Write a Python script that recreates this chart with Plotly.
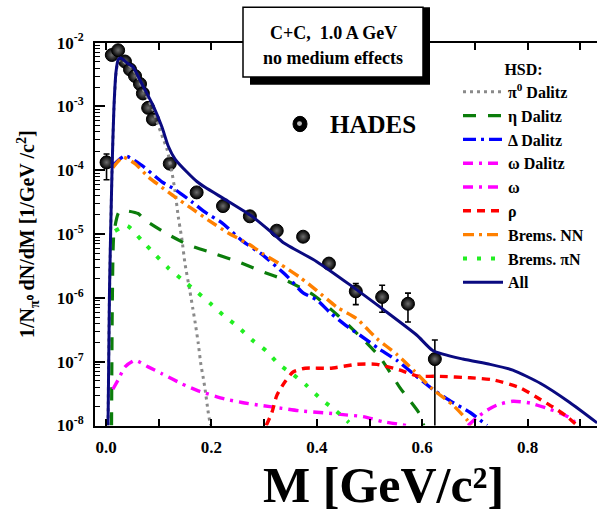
import plotly.graph_objects as go

W, H = 597, 515
SERIF = "Liberation Serif"

# ---------------- data ----------------
# HADES C+C 1.0 A GeV e+e- invariant mass spectrum
hades_m = [0.001, 0.011, 0.023, 0.036, 0.0455, 0.055, 0.0645, 0.070, 0.080, 0.089,
           0.121, 0.172, 0.222, 0.273, 0.324, 0.374, 0.423, 0.474, 0.524, 0.573, 0.624]
hades_y = [1.33e-4, 6.4e-3, 7.6e-3, 5.06e-3, 3.8e-3, 3.0e-3, 2.25e-3, 1.6e-3, 9.5e-4, 6.3e-4,
           1.27e-4, 4.5e-5, 2.75e-5, 1.9e-5, 1.13e-5, 9.1e-6, 3.45e-6, 1.27e-6, 1.035e-6, 8.1e-7, 1.1e-7]
hades_err_up = [4.7e-5, 0, 0, 0, 0, 0, 0, 0, 0, 0,
                0, 0, 0, 0, 0, 0, 0, 4.1e-7, 5.45e-7, 3.8e-7, 1.09e-7]
hades_err_dn = [6.2e-5, 0, 0, 0, 0, 0, 0, 0, 0, 0,
                0, 0, 0, 0, 0, 0, 0, 4.85e-7, 4.39e-7, 3.9e-7, 1.0999e-7]

# HSD contributions
pi0_m = [0.0038, 0.0066, 0.0114, 0.015, 0.019, 0.023, 0.028, 0.040, 0.051, 0.070, 0.089,
         0.099, 0.108, 0.116, 0.125, 0.131, 0.137, 0.144, 0.150, 0.159, 0.165, 0.169,
         0.175, 0.180, 0.184, 0.188, 0.194, 0.197, 0.199]
pi0_y = [1e-8, 1.2e-6, 9.5e-5, 9e-4, 3.3e-3, 5.1e-3, 5.4e-3, 4.6e-3, 3.9e-3, 1.9e-3, 8.9e-4,
         5.1e-4, 3.2e-4, 2.1e-4, 9.3e-5, 4.7e-5, 1.9e-5, 8.3e-6, 3.4e-6, 1.3e-6, 6.6e-7, 4.2e-7,
         1.95e-7, 9.1e-8, 5.9e-8, 3.7e-8, 1.6e-8, 1.15e-8, 1.0e-8]

eta_m = [0.0105, 0.012, 0.015, 0.023, 0.028, 0.061, 0.074, 0.112, 0.156, 0.207, 0.250,
         0.296, 0.343, 0.393, 0.438, 0.482, 0.520, 0.558, 0.596, 0.603]
eta_y = [1e-8, 9.3e-7, 1.05e-5, 2.1e-5, 2.35e-5, 2.1e-5, 1.66e-5, 1.05e-5, 6.8e-6, 4.9e-6, 3.7e-6,
         2.6e-6, 1.86e-6, 1.12e-6, 5.5e-7, 2.5e-7, 1.17e-7, 3.9e-8, 1.48e-8, 1.0e-8]

delta_m = [0.013, 0.036, 0.068, 0.106, 0.131, 0.163, 0.188, 0.220, 0.258, 0.296, 0.343,
           0.374, 0.400, 0.425, 0.457, 0.482, 0.520, 0.552, 0.583, 0.620, 0.658, 0.691, 0.723]
delta_y = [1.19e-4, 1.68e-4, 1.19e-4, 6.6e-5, 5.0e-5, 3.2e-5, 2.2e-5, 1.5e-5, 7.9e-6, 4.8e-6, 2.2e-6,
           1.2e-6, 9.3e-7, 5.9e-7, 3.6e-7, 2.6e-7, 1.55e-7, 1.05e-7, 6.5e-8, 3.7e-8, 2.3e-8, 1.6e-8, 1.0e-8]

omega_dal_m = [0.013, 0.023, 0.036, 0.055, 0.080, 0.106, 0.144, 0.175, 0.226, 0.258,
               0.288, 0.334, 0.368, 0.416, 0.450, 0.488, 0.526, 0.571]
omega_dal_y = [3.7e-8, 5.2e-8, 8.3e-8, 1.05e-7, 8.3e-8, 6.5e-8, 4.5e-8, 3.5e-8, 2.6e-8, 2.3e-8,
               2.1e-8, 1.86e-8, 1.7e-8, 1.58e-8, 1.48e-8, 1.38e-8, 1.15e-8, 1.0e-8]

omega_m = [0.687, 0.706, 0.723, 0.742, 0.772, 0.805, 0.837, 0.861, 0.880, 0.896]
omega_y = [1e-8, 1.38e-8, 1.74e-8, 2.1e-8, 2.4e-8, 2.25e-8, 1.86e-8, 1.58e-8, 1.32e-8, 1.0e-8]

rho_m = [0.304, 0.315, 0.324, 0.340, 0.355, 0.378, 0.425, 0.476, 0.514, 0.558, 0.590,
         0.634, 0.691, 0.734, 0.786, 0.818, 0.848, 0.875, 0.894]
rho_y = [1e-8, 1.62e-8, 2.95e-8, 4.9e-8, 6.9e-8, 7.9e-8, 7.9e-8, 9.1e-8, 9.1e-8, 7.4e-8, 6.0e-8,
         5.9e-8, 5.6e-8, 5.2e-8, 3.9e-8, 2.75e-8, 1.95e-8, 1.38e-8, 1.0e-8]

brems_nn_m = [0.013, 0.032, 0.055, 0.080, 0.106, 0.131, 0.163, 0.194, 0.231, 0.273, 0.298,
              0.330, 0.368, 0.400, 0.438, 0.476, 0.514, 0.552, 0.583, 0.620, 0.658, 0.685, 0.693]
brems_nn_y = [1.1e-4, 1.6e-4, 1.27e-4, 7.9e-5, 5.4e-5, 3.8e-5, 2.5e-5, 1.66e-5, 1.05e-5, 6.8e-6, 4.9e-6,
              3.4e-6, 2.1e-6, 1.3e-6, 7.2e-7, 4.7e-7, 2.3e-7, 1.3e-7, 7.4e-8, 3.7e-8, 2.1e-8, 1.23e-8, 1.0e-8]

brems_pin_m = [0.017, 0.040, 0.068, 0.093, 0.118, 0.144, 0.173, 0.197, 0.222, 0.250, 0.277,
               0.304, 0.328, 0.355, 0.381, 0.408, 0.435, 0.461]
brems_pin_y = [1.12e-5, 1.35e-5, 7.9e-6, 4.8e-6, 2.95e-6, 1.95e-6, 1.23e-6, 8.3e-7, 5.4e-7, 3.55e-7, 2.2e-7,
               1.48e-7, 9.1e-8, 6.3e-8, 4.2e-8, 2.6e-8, 1.74e-8, 1.12e-8]

all_m = [0.0038, 0.0066, 0.0114, 0.015, 0.019, 0.023, 0.028, 0.040, 0.051, 0.070, 0.089,
         0.106, 0.118, 0.131, 0.154, 0.173, 0.188, 0.231, 0.277, 0.315, 0.336, 0.400,
         0.463, 0.526, 0.590, 0.620, 0.677, 0.729, 0.772, 0.824, 0.880, 0.932]
all_y = [1e-8, 1.3e-6, 1.0e-4, 9.5e-4, 3.5e-3, 5.4e-3, 5.75e-3, 4.8e-3, 4.2e-3, 2.1e-3, 1.05e-3,
         4.8e-4, 2.4e-4, 1.5e-4, 9.3e-5, 6.6e-5, 5.4e-5, 3.3e-5, 1.9e-5, 1.05e-5, 7.4e-6, 3.7e-6,
         1.6e-6, 6.6e-7, 2.6e-7, 1.5e-7, 1.1e-7, 9.1e-8, 7.4e-8, 4.6e-8, 2.3e-8, 1.1e-8]

x_tick_vals = [0.0, 0.1, 0.2, 0.3, 0.4, 0.5, 0.6, 0.7, 0.8, 0.9]
x_tick_text = ["0.0", "", "0.2", "", "0.4", "", "0.6", "", "0.8", ""]
y_exponents = [-8, -7, -6, -5, -4, -3, -2]

# ---------------- styling ----------------
components = [
    ("π<sup>0</sup> Dalitz", pi0_m, pi0_y, "#8a8a8a", 3, "3px,4px"),
    ("η Dalitz", eta_m, eta_y, "#0b7d0b", 3.2, "13px,12px"),
    ("Δ Dalitz", delta_m, delta_y, "#0000ff", 3.4, "13px,5px,3px,5px"),
    ("ω Dalitz", omega_dal_m, omega_dal_y, "#ff00ff", 3.4, "10px,6px,3px,6px"),
    ("ω", omega_m, omega_y, "#ff00ff", 3.4, "10px,6px,3px,6px"),
    ("ρ", rho_m, rho_y, "#ff0000", 3.4, "8px,6px"),
    ("Brems. NN", brems_nn_m, brems_nn_y, "#ff8000", 3.4, "11px,5px,3px,5px"),
    ("Brems. πN", brems_pin_m, brems_pin_y, "#22ee22", 4, "4px,10px"),
    ("All", all_m, all_y, "#0a0a80", 3, "solid"),
]

fig = go.Figure()

fig.add_trace(go.Scatter(
    x=hades_m, y=hades_y, mode="markers", showlegend=False,
    marker=dict(symbol="circle", size=13, color="black",
                gradient=dict(type="radial", color="#6e6e6e"),
                line=dict(color="black", width=1)),
    error_y=dict(type="data", symmetric=False, array=hades_err_up,
                 arrayminus=hades_err_dn, color="black", thickness=1.6, width=3),
))

for i, (name, xs, ys, color, width, dash) in enumerate(components):
    fig.add_trace(go.Scatter(
        x=xs, y=ys, mode="lines", name=name, legendgroup=f"g{i}",
        line=dict(color=color, width=width, dash=dash, shape="spline", smoothing=0.6),
    ))

font_tick = dict(family=SERIF, size=17, color="black", weight="bold")


def px_x(v):
    return v / W


def px_y(v):
    return 1 - v / H


minor_vals = [k * 10.0 ** e for e in y_exponents[:-1] for k in range(2, 10)]

fig.update_layout(
    width=W, height=H,
    margin=dict(l=0, r=0, t=0, b=0),
    paper_bgcolor="white", plot_bgcolor="white",
    xaxis=dict(
        domain=[px_x(95), 1.0], range=[-0.0209, 0.9317],
        showline=True, linecolor="black", linewidth=2, mirror="ticks",
        ticks="inside", ticklen=7, tickwidth=1.5, tickcolor="black",
        tickvals=x_tick_vals, ticktext=x_tick_text, tickfont=font_tick,
        ticklabelstandoff=5, showgrid=False, zeroline=False,
    ),
    yaxis=dict(
        type="log", domain=[px_y(432), px_y(32)], range=[-8, -2],
        showline=True, linecolor="black", linewidth=2,
        ticks="inside", ticklen=10, tickwidth=1.5, tickcolor="black",
        tickvals=[10.0 ** e for e in y_exponents],
        ticktext=[f"10<sup>{e}</sup>" for e in y_exponents],
        tickfont=font_tick, ticklabelstandoff=6,
        minor=dict(ticks="inside", ticklen=5, tickwidth=1.2, tickcolor="black",
                   tickvals=minor_vals, showgrid=False),
        showgrid=False, zeroline=False,
    ),
    legend=dict(
        x=px_x(458), y=px_y(44), xanchor="left", yanchor="top",
        bgcolor="rgba(0,0,0,0)", borderwidth=0,
        font=dict(family=SERIF, size=16, color="black", weight="bold"),
        title=dict(text="HSD:", side="top center",
                   font=dict(family=SERIF, size=16, color="black", weight="bold")),
        tracegroupgap=0, itemwidth=40,
    ),
    showlegend=True,
)

# system label box with drop shadow
fig.add_shape(type="rect", xref="paper", yref="paper",
              x0=px_x(250), x1=px_x(430), y0=px_y(76), y1=px_y(-5),
              fillcolor="black", line=dict(width=0), layer="above")
fig.add_shape(type="rect", xref="paper", yref="paper",
              x0=px_x(243), x1=px_x(423), y0=px_y(68), y1=px_y(-5),
              fillcolor="white", line=dict(color="black", width=1.5), layer="above")
box_font = dict(family=SERIF, size=18, color="black", weight="bold")
fig.add_annotation(x=px_x(333), y=px_y(22), xref="paper", yref="paper",
                   xanchor="center", yanchor="middle",
                   text="C+C,  1.0 A GeV", showarrow=False, font=box_font)
fig.add_annotation(x=px_x(333), y=px_y(48), xref="paper", yref="paper",
                   xanchor="center", yanchor="middle",
                   text="no medium effects", showarrow=False, font=box_font)

# HADES label with a sphere symbol
fig.add_shape(type="circle", xref="paper", yref="paper",
              x0=px_x(293), x1=px_x(307), y0=px_y(125), y1=px_y(109),
              fillcolor="black", line=dict(color="black", width=1), layer="above")
fig.add_shape(type="circle", xref="paper", yref="paper",
              x0=px_x(297), x1=px_x(302), y0=px_y(119), y1=px_y(114),
              fillcolor="#bbbbbb", line=dict(width=0), layer="above")
fig.add_annotation(x=px_x(328), y=px_y(117), xref="paper", yref="paper",
                   xanchor="left", yanchor="middle", text="HADES", showarrow=False,
                   font=dict(family=SERIF, size=25, color="black", weight="bold"))

# axis titles
fig.add_annotation(x=px_x(28), y=px_y(232), xref="paper", yref="paper",
                   xanchor="center", yanchor="middle",
                   text="1/N<sub>π⁰</sub> dN/dM [1/GeV /c<sup>2</sup>]", textangle=-90,
                   showarrow=False,
                   font=dict(family=SERIF, size=20, color="black", weight="bold"))
fig.add_annotation(x=px_x(383), y=px_y(494), xref="paper", yref="paper",
                   xanchor="center", yanchor="middle",
                   text="M [GeV/c²]", showarrow=False,
                   font=dict(family=SERIF, size=50, color="black", weight="bold"))

fig.write_html("out.html")
